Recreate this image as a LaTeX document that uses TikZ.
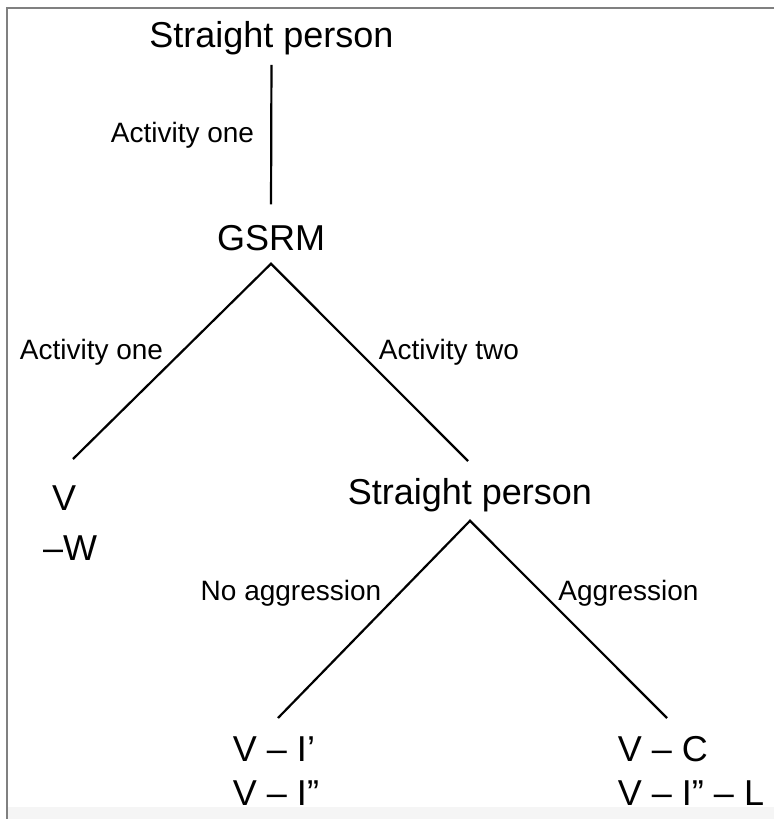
\documentclass[tikz,border=0pt]{standalone}
\usepackage{fontspec}
\setmainfont{Liberation Sans}
\begin{document}
\begin{tikzpicture}[x=1pt,y=-1pt,
  big/.style={font=\fontsize{36}{44}\selectfont, inner sep=0pt, align=left},
  lbl/.style={font=\fontsize{28}{32}\selectfont, inner sep=0pt},
  edge/.style={line width=2.2pt, black},
  frame/.style={line width=2pt, draw=black!50}]
\useasboundingbox (0,0) rectangle (774,819);
\fill[black!4] (7.5,807) rectangle (774,819);
\draw[frame] (774,7.5) -- (6.5,7.5) -- (6.5,819);

\node[big] (sp1) at (271.5,38) {Straight person};
\node[big, outer ysep=13pt] (gsrm) at (271,238) {GSRM};
\node[big] (vw) at (70,523) {\hspace{9pt}V\\[6pt]–W};
\node[big, outer ysep=9pt] (sp2) at (470,495) {Straight person};
\node[big] (bl) at (276,771) {V – I’\\V – I”};
\node[big] (br) at (691,771) {V – C\\V – I” – L};

\coordinate (gl) at (73,459);
\coordinate (gr) at (468,461);
\coordinate (sl) at (278,718);
\coordinate (sr) at (667,718);

\draw[edge, shorten <=10pt, shorten >=8pt] (sp1.south) -- (gsrm.north);
\draw[edge, line join=miter] (gl) -- (gsrm.south) -- (gr);
\draw[edge, line join=miter] (sl) -- (sp2.south) -- (sr);

\node[lbl] (l1) at (182.5,135) {Activity one};
\node[lbl] (l2) at (91.5,352) {Activity one};
\node[lbl] (l3) at (449,352) {Activity two};
\node[lbl] (l4) at (291,593) {No aggression};
\node[lbl] (l5) at (628.5,593) {Aggression};
\end{tikzpicture}
\end{document}
